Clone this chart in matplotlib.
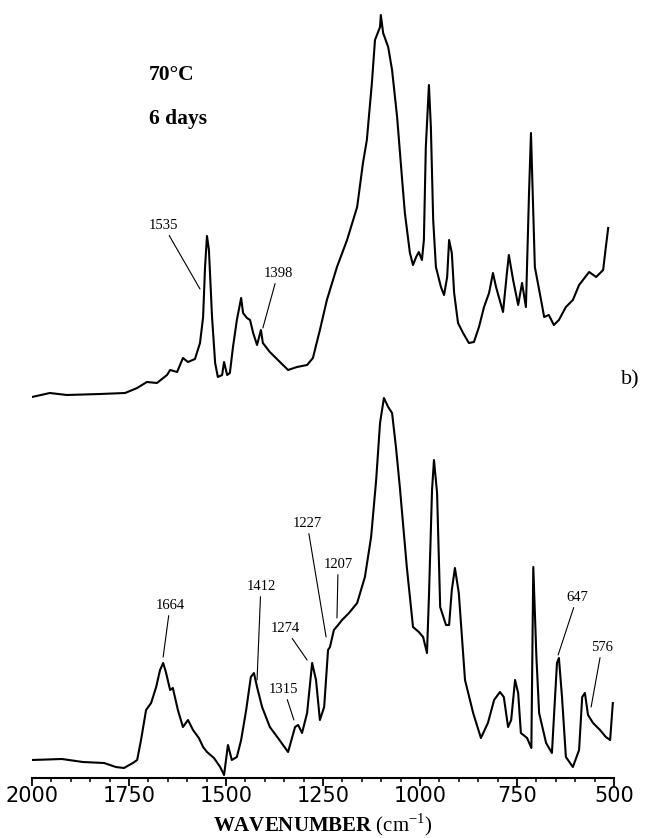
import numpy as np
import matplotlib.pyplot as plt
from matplotlib.ticker import MultipleLocator

plt.rcParams['mathtext.fontset'] = 'custom'
plt.rcParams['mathtext.rm'] = 'Liberation Serif'
plt.rcParams['mathtext.bf'] = 'Liberation Serif:bold'

# upper trace (70 C, 6 days) - heights above its own baseline, arbitrary units
wn_top = [2000, 1954, 1910, 1825, 1760, 1729, 1704, 1678, 1652, 1644, 1626, 1611, 1598, 1580,
          1567, 1559, 1554, 1549, 1544, 1536, 1528, 1521, 1510, 1505, 1497, 1490, 1482, 1472,
          1461, 1456, 1446, 1438, 1430, 1420, 1410, 1405, 1387, 1361, 1340, 1317, 1291, 1276,
          1258, 1240, 1214, 1188, 1162, 1147, 1137, 1124, 1116, 1103, 1101, 1095, 1082, 1072,
          1059, 1046, 1039, 1026, 1018, 1010, 1003, 995, 990, 985, 977, 972, 966, 959, 946,
          938, 930, 925, 918, 912, 902, 889, 874, 861, 848, 835, 822, 812, 804, 786, 776, 771,
          760, 747, 737, 727, 719, 714, 709, 704, 688, 680, 668, 655, 642, 624, 606, 590, 564,
          546, 528, 521, 515]
abs_top = [-2, 2, 0, 1, 2, 7, 13, 12, 20, 25, 23, 37, 33, 36,
           52, 78, 128, 159, 145, 78, 32, 18, 20, 33, 20, 22, 48, 75,
           97, 82, 77, 75, 62, 50, 65, 52, 43, 33, 25, 28, 30, 37,
           65, 95, 128, 155, 188, 232, 255, 312, 355, 368, 380, 362, 348, 325,
           278, 215, 182, 142, 130, 138, 143, 135, 155, 248, 310, 268, 175, 128, 108,
           100, 118, 155, 142, 102, 72, 62, 52, 53, 68, 88, 102, 122, 108, 83, 122, 140,
           115, 90, 112, 88, 202, 262, 195, 128, 95, 78, 80, 70, 75, 88, 95, 110, 123,
           118, 125, 148, 167]

# lower trace
wn_bot = [2000, 1923, 1869, 1814, 1784, 1763, 1740, 1729, 1719, 1706, 1693, 1680, 1670, 1662,
          1655, 1644, 1637, 1624, 1611, 1598, 1585, 1570, 1559, 1549, 1531, 1515, 1505, 1495,
          1485, 1472, 1461, 1448, 1436, 1428, 1420, 1407, 1387, 1366, 1340, 1322, 1314, 1304,
          1291, 1278, 1268, 1258, 1247, 1237, 1232, 1222, 1211, 1201, 1183, 1162, 1142, 1126,
          1113, 1103, 1093, 1082, 1072, 1062, 1052, 1034, 1018, 1003, 992, 982, 977, 969, 964,
          956, 948, 933, 925, 918, 910, 900, 884, 863, 843, 825, 809, 794, 784, 773, 765, 755,
          747, 740, 724, 713, 708, 700, 693, 675, 660, 647, 642, 634, 624, 606, 590, 582, 575,
          567, 554, 536, 521, 510, 503]
abs_bot = [18, 19, 16, 15, 11, 10, 15, 18, 38, 68, 75, 91, 108, 115,
           106, 88, 90, 68, 51, 58, 48, 40, 31, 26, 20, 11, 3, 33,
           18, 21, 38, 68, 101, 105, 91, 71, 51, 40, 26, 51, 53, 45,
           65, 115, 98, 58, 71, 128, 131, 148, 153, 158, 165, 175, 201, 241,
           298, 355, 380, 371, 365, 331, 291, 211, 151, 146, 141, 125, 181, 288, 318,
           285, 171, 153, 153, 188, 210, 185, 98, 65, 40, 55, 78, 86, 81, 51, 58, 98,
           85, 45, 40, 30, 211, 121, 65, 35, 25, 115, 120, 81, 21, 11, 28, 81, 85,
           63, 55, 48, 41, 38, 75]

top_offset = 383

# peak labels: text position and end of the leader line
top_labels = ['1535', '1398']
top_text_wn = [1662, 1366]
top_text_y = [170, 122]
top_tip_wn = [1567, 1405]
top_tip_y = [106, 67]

bot_labels = ['1664', '1412', '1274', '1315', '1227', '1207', '647', '576']
bot_text_wn = [1644, 1410, 1348, 1351, 1291, 1211, 595, 531]
bot_text_y = [173, 192, 150, 89, 255, 214, 181, 131]
bot_tip_wn = [1662, 1420, 1291, 1325, 1242, 1214, 644, 559]
bot_tip_y = [121, 98, 118, 58, 141, 160, 123, 71]

fig = plt.figure(figsize=(6.47, 8.38), dpi=100)
ax = fig.add_axes([32 / 647, 60 / 838, 582 / 647, 778 / 838])

ax.plot(wn_top, np.array(abs_top) + top_offset, color='black', lw=1.5)
ax.plot(wn_bot, abs_bot, color='black', lw=1.5)

serif = 'Liberation Serif'
for lab, tx, ty, px, py in zip(top_labels, top_text_wn, top_text_y, top_tip_wn, top_tip_y):
    ax.annotate(lab, xy=(px, py + top_offset), xytext=(tx, ty + top_offset),
                ha='center', va='center', family=serif, fontsize=10.5,
                arrowprops=dict(arrowstyle='-', lw=0.8, color='black', shrinkA=1, shrinkB=0))
for lab, tx, ty, px, py in zip(bot_labels, bot_text_wn, bot_text_y, bot_tip_wn, bot_tip_y):
    ax.annotate(lab, xy=(px, py), xytext=(tx, ty),
                ha='center', va='center', family=serif, fontsize=10.5,
                arrowprops=dict(arrowstyle='-', lw=0.8, color='black', shrinkA=1, shrinkB=0))

ax.text(1698, 703, '70°C', family=serif, fontsize=15.5, fontweight='bold', va='center')
ax.text(1698, 659, '6 days', family=serif, fontsize=15.5, fontweight='bold', va='center')
ax.text(482, 398, 'b)', family=serif, fontsize=16, va='center', clip_on=False)

ax.set_xlim(2000, 500)
ax.set_ylim(0, 778)
for s in ['top', 'left', 'right']:
    ax.spines[s].set_visible(False)
ax.spines['bottom'].set_linewidth(1.5)
ax.set_yticks([])
ax.set_xticks([2000, 1750, 1500, 1250, 1000, 750, 500])
ax.xaxis.set_minor_locator(MultipleLocator(50))
ax.tick_params(axis='x', which='major', direction='out', length=5.5, width=1.3,
               labelsize=15, pad=0)
ax.tick_params(axis='x', which='minor', direction='out', length=3, width=1.1)
ax.set_xlabel(r'$\mathbf{WAVENUMBER}$ (cm$^{-1}$)', family=serif, fontsize=15, labelpad=4)

fig.savefig('out.png', dpi=100)
